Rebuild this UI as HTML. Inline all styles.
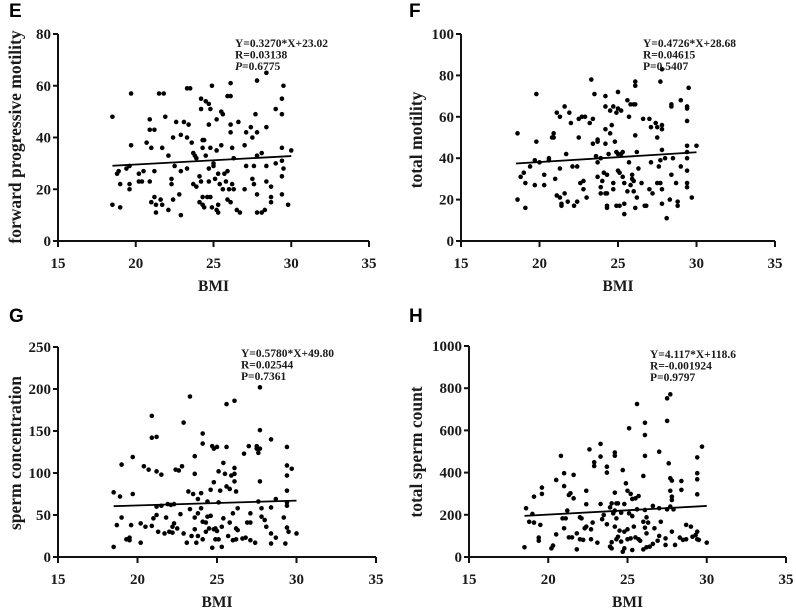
<!DOCTYPE html>
<html>
<head>
<meta charset="utf-8">
<style>
html,body{margin:0;padding:0;background:#fff;}
svg{display:block;}
text{font-family:"Liberation Serif",serif;font-weight:bold;fill:#1a1a1a;}
.pl{font-family:"Liberation Sans",sans-serif;font-size:19px;fill:#000;}
</style>
</head>
<body>
<svg id="fig" width="796" height="612" viewBox="0 0 796 612" xmlns="http://www.w3.org/2000/svg"></svg>
<script>
// ---- data (x = BMI, y = outcome) as [x,y] pairs ----
const xTicks = [15, 20, 25, 30, 35];
const eTicks = [0, 20, 40, 60, 80];
const fTicks = [0, 20, 40, 60, 80, 100];
const gTicks = [0, 50, 100, 150, 200, 250];
const hTicks = [0, 200, 400, 600, 800, 1000];
const eFit = [0.3270, 23.02];
const fFit = [0.4726, 28.68];
const gFit = [0.5780, 49.80];
const hFit = [4.117, 118.6];
const eData = [[18.5,48],[18.5,14],[18.8,26],[18.9,27],[19.0,13],[19.0,22],[19.4,28],[19.6,29],[19.6,22],[19.6,20],[19.7,57],[19.7,37],[20.2,26],[20.2,23],[20.4,23],[20.5,27],[20.7,38],[20.9,23],[20.9,47],[20.9,43],[21.0,36],[21.0,15],[21.2,43],[21.2,27],[21.2,17],[21.3,11],[21.3,14],[21.6,16],[21.5,57],[21.7,14],[21.7,36],[21.8,57],[21.9,48],[22.1,33],[22.1,12],[22.3,22],[22.3,24],[22.4,16],[22.4,40],[22.5,29],[22.6,46],[22.8,18],[22.9,41],[22.9,27],[22.9,10],[23.1,46],[23.3,40],[23.3,59],[23.4,45],[23.5,59],[23.3,28],[23.6,38],[23.7,34],[23.7,22],[23.8,33],[23.9,32],[23.9,21],[24.1,25],[24.1,15],[24.2,23],[24.2,51],[24.2,55],[24.3,39],[24.3,36],[24.3,17],[24.3,14],[24.4,13],[24.4,39],[24.5,54],[24.5,33],[24.6,17],[24.7,23],[24.7,53],[24.7,45],[24.7,28],[24.8,17],[24.8,36],[24.8,51],[24.9,13],[25.0,29],[24.9,60],[25.0,30],[25.1,24],[25.2,12],[25.2,35],[25.2,47],[25.3,26],[25.3,11],[25.3,14],[25.4,22],[25.5,37],[25.5,50],[25.6,20],[25.6,49],[25.7,26],[25.8,23],[25.9,27],[25.9,56],[25.9,16],[26.0,20],[26.1,15],[26.1,61],[26.1,56],[26.1,45],[26.1,42],[26.2,36],[26.2,22],[26.3,32],[26.3,20],[26.5,12],[26.6,46],[26.7,11],[27.0,37],[27.0,20],[27.1,29],[27.1,42],[27.4,44],[27.5,40],[27.5,24],[27.6,29],[27.6,22],[27.7,49],[27.8,62],[27.8,42],[27.8,18],[27.8,11],[27.8,33],[28.1,11],[28.1,34],[28.3,12],[28.4,44],[28.4,65],[28.4,29],[28.4,23],[28.7,21],[28.7,17],[28.7,15],[29.0,30],[29.0,51],[29.4,55],[29.4,49],[29.4,36],[29.4,25],[29.4,18],[29.4,31],[29.5,60],[29.5,28],[29.8,14],[30.0,35]];
const fData = [[18.6,52],[18.6,20],[18.8,31],[19.0,33],[19.1,28],[19.1,16],[19.4,36],[19.7,39],[19.7,27],[19.8,71],[19.8,48],[20.0,38],[20.3,32],[20.3,27],[20.6,39],[20.6,40],[20.8,50],[20.9,52],[20.9,50],[21.0,30],[21.1,62],[21.1,22],[21.3,21],[21.3,60],[21.3,35],[21.4,18],[21.4,17],[21.6,65],[21.6,23],[21.7,42],[21.8,19],[21.9,62],[22.0,57],[22.1,36],[22.2,17],[22.4,36],[22.4,19],[22.5,50],[22.5,59],[22.6,28],[22.7,60],[22.8,25],[22.8,29],[22.9,60],[23.0,21],[23.2,57],[23.3,78],[23.4,59],[23.4,47],[23.5,71],[23.7,48],[23.7,49],[23.6,41],[23.7,31],[23.7,38],[23.9,40],[23.9,26],[23.9,23],[24.0,29],[24.1,33],[24.2,70],[24.2,65],[24.2,54],[24.2,47],[24.2,23],[24.3,32],[24.3,17],[24.3,23],[24.3,16],[24.4,42],[24.5,52],[24.5,63],[24.6,56],[24.7,65],[24.7,28],[24.7,25],[24.8,48],[24.9,62],[24.9,43],[24.9,17],[25.0,72],[25.0,64],[25.0,42],[25.0,34],[25.1,33],[25.1,17],[25.2,63],[25.2,42],[25.3,31],[25.3,43],[25.4,28],[25.4,13],[25.4,18],[25.6,68],[25.6,24],[25.7,60],[25.7,38],[25.8,66],[25.8,27],[25.9,30],[25.9,32],[26.0,66],[26.0,29],[26.0,24],[26.1,66],[26.1,75],[26.1,77],[26.1,51],[26.1,16],[26.2,21],[26.2,43],[26.3,35],[26.5,28],[26.6,59],[26.7,17],[26.8,17],[27.0,59],[27.0,25],[27.1,55],[27.1,38],[27.2,23],[27.4,57],[27.5,28],[27.5,50],[27.5,55],[27.6,36],[27.7,77],[27.7,39],[27.7,28],[27.8,56],[27.8,54],[27.8,83],[27.8,44],[27.8,25],[27.8,18],[28.0,40],[28.1,11],[28.3,20],[28.4,32],[28.4,66],[28.4,65],[28.5,40],[28.7,28],[28.8,19],[28.8,17],[29.0,68],[29.0,36],[29.4,65],[29.4,64],[29.4,58],[29.4,46],[29.4,43],[29.4,40],[29.4,34],[29.4,28],[29.4,26],[29.5,74],[29.7,21],[30.0,46]];
const gData = [[18.5,77],[18.5,12],[18.7,38],[18.9,72],[19.0,110],[19.0,47],[19.3,21],[19.5,20],[19.5,23],[19.6,38],[19.7,119],[19.7,75],[20.2,17],[20.2,40],[20.4,108],[20.5,36],[20.7,104],[20.9,37],[20.9,168],[20.9,142],[21.0,46],[21.2,143],[21.2,50],[21.2,102],[21.2,60],[21.3,30],[21.5,98],[21.5,61],[21.7,28],[21.8,47],[21.9,63],[22.0,30],[22.1,62],[22.2,36],[22.2,29],[22.3,40],[22.3,63],[22.4,104],[22.5,34],[22.6,103],[22.7,51],[22.8,108],[22.9,28],[22.9,160],[23.1,17],[23.2,78],[23.3,191],[23.3,57],[23.4,25],[23.5,75],[23.6,47],[23.6,120],[23.6,99],[23.6,33],[23.7,17],[23.8,25],[23.8,69],[23.8,52],[24.0,76],[24.0,58],[24.1,147],[24.1,135],[24.1,42],[24.1,21],[24.3,30],[24.3,41],[24.4,66],[24.4,48],[24.5,34],[24.6,49],[24.6,80],[24.7,11],[24.7,132],[24.8,33],[24.8,129],[24.8,89],[24.9,21],[24.9,34],[25.0,31],[25.0,131],[25.1,102],[25.1,65],[25.1,21],[25.2,79],[25.3,36],[25.3,12],[25.4,112],[25.4,46],[25.5,99],[25.6,131],[25.6,84],[25.6,182],[25.7,25],[25.8,81],[25.8,41],[25.9,97],[26.0,20],[26.0,52],[26.1,186],[26.1,99],[26.1,90],[26.1,106],[26.2,21],[26.2,34],[26.2,78],[26.3,58],[26.3,32],[26.6,22],[26.7,123],[26.8,23],[26.9,41],[27.0,132],[27.1,52],[27.1,41],[27.1,20],[27.4,17],[27.5,132],[27.5,129],[27.6,66],[27.7,202],[27.6,124],[27.7,90],[27.7,129],[27.7,151],[27.8,58],[27.8,48],[28.0,44],[28.1,36],[28.4,28],[28.4,16],[28.4,140],[28.4,59],[28.7,69],[28.7,23],[29.2,47],[29.3,16],[29.4,131],[29.4,109],[29.4,97],[29.4,79],[29.4,65],[29.4,61],[29.4,35],[29.5,30],[29.7,105],[30.0,28]];
const hData = [[18.5,46],[18.6,231],[18.8,167],[19.0,204],[19.1,286],[19.1,163],[19.4,77],[19.4,92],[19.5,152],[19.6,329],[19.6,299],[20.2,41],[20.3,54],[20.5,107],[20.5,365],[20.8,479],[20.9,183],[21.0,136],[21.0,397],[21.0,336],[21.1,183],[21.2,220],[21.3,294],[21.3,93],[21.4,302],[21.5,93],[21.6,389],[21.6,278],[21.8,36],[21.8,112],[22.0,84],[22.0,188],[22.1,183],[22.2,81],[22.3,136],[22.4,314],[22.4,144],[22.4,250],[22.6,510],[22.7,131],[22.7,84],[22.8,163],[22.9,431],[22.9,449],[23.1,68],[23.3,536],[23.3,251],[23.3,476],[23.4,179],[23.5,199],[23.7,400],[23.7,428],[23.7,155],[23.9,235],[23.9,49],[24.0,70],[24.0,41],[24.0,254],[24.1,207],[24.2,495],[24.2,480],[24.2,305],[24.2,220],[24.2,144],[24.3,84],[24.3,254],[24.3,183],[24.4,96],[24.4,254],[24.5,125],[24.6,210],[24.6,73],[24.7,25],[24.7,412],[24.8,251],[24.8,120],[24.8,41],[24.9,349],[25.0,131],[25.0,84],[25.0,314],[25.1,207],[25.1,610],[25.2,299],[25.2,88],[25.3,33],[25.3,275],[25.3,194],[25.4,144],[25.5,93],[25.5,278],[25.6,226],[25.6,725],[25.7,289],[25.7,84],[25.8,77],[26.0,384],[26.0,167],[26.0,36],[26.1,223],[26.1,636],[26.1,578],[26.1,479],[26.1,139],[26.2,46],[26.2,112],[26.2,188],[26.3,163],[26.4,49],[26.6,62],[26.6,242],[26.7,136],[26.9,77],[27.0,499],[27.0,231],[27.0,100],[27.1,167],[27.4,88],[27.4,57],[27.5,752],[27.5,645],[27.5,226],[27.6,444],[27.7,239],[27.7,314],[27.7,771],[27.7,373],[27.8,362],[27.8,286],[27.8,270],[27.8,120],[27.9,226],[28.0,57],[28.3,92],[28.4,318],[28.4,360],[28.5,81],[28.7,84],[28.7,152],[29.0,144],[29.1,96],[29.3,104],[29.4,120],[29.4,472],[29.4,368],[29.4,397],[29.4,297],[29.4,84],[29.5,81],[29.7,523],[30.0,68]];

const NS = "http://www.w3.org/2000/svg";
const svg = document.getElementById('fig');
function mk(tag, attrs, parent){
  const el = document.createElementNS(NS, tag);
  for (const k in attrs) el.setAttribute(k, attrs[k]);
  (parent || svg).appendChild(el);
  return el;
}

function panel(cfg, data, yTicks, fit){
  const g = mk('g', {});
  
  
  const xMin = xTicks[0], xMax = xTicks[xTicks.length-1];
  const yMax = yTicks[yTicks.length-1];
  const sx = v => cfg.x0 + (v - xMin) / (xMax - xMin) * (cfg.x1 - cfg.x0);
  const sy = v => cfg.yb - v / yMax * (cfg.yb - cfg.yt);

  const letter = mk('text', {x: cfg.lx, y: cfg.ly, class: 'pl'}, g);
  letter.textContent = cfg.letter;
  
  

  const yAxis = mk('line', {x1: cfg.x0, y1: cfg.yt, x2: cfg.x0, y2: cfg.yb + 1, stroke: '#111', 'stroke-width': 2}, g);
  
  
  const xAxis = mk('line', {x1: cfg.x0 - 1, y1: cfg.yb, x2: cfg.x1, y2: cfg.yb, stroke: '#111', 'stroke-width': 2}, g);
  
  

  yTicks.forEach(t => {
    const y = sy(t);
    const tk = mk('line', {x1: cfg.x0 - 5, y1: y, x2: cfg.x0, y2: y, stroke: '#111', 'stroke-width': 2}, g);
    
    
    const tl = mk('text', {x: cfg.x0 - 7, y: y + 5, 'text-anchor': 'end', 'font-size': 15}, g);
    tl.textContent = t;
    
    
  });
  xTicks.forEach(t => {
    const x = sx(t);
    const tk = mk('line', {x1: x, y1: cfg.yb, x2: x, y2: cfg.yb + 6, stroke: '#111', 'stroke-width': 2}, g);
    
    
    const tl = mk('text', {x: x, y: cfg.yb + 27, 'text-anchor': 'middle', 'font-size': 15}, g);
    tl.textContent = t;
    
    
  });

  const xt = mk('text', {x: (cfg.x0 + cfg.x1) / 2, y: cfg.yb + 50, 'text-anchor': 'middle', 'font-size': 15.5}, g);
  xt.textContent = 'BMI';
  
  
  const yt = mk('text', {x: 0, y: 0, 'text-anchor': 'middle', 'font-size': 17.5,
    transform: 'translate(' + cfg.tx + ',' + cfg.ty + ') rotate(-90)'}, g);
  yt.textContent = cfg.ytitle;
  
  

  data.forEach(d => {
    const c = mk('circle', {cx: sx(d[0]), cy: sy(d[1]), r: 2.3, fill: '#000'}, g);
    
    
  });

  const fx0 = 18.5, fx1 = 30;
  const fl = mk('line', {x1: sx(fx0), y1: sy(fit[0]*fx0 + fit[1]), x2: sx(fx1), y2: sy(fit[0]*fx1 + fit[1]), stroke: '#000', 'stroke-width': 1.8}, g);
  
  

  cfg.ann.forEach((s, i) => {
    const t = mk('text', {x: cfg.ax, y: cfg.ay + i * 11.5, 'font-size': 11.5}, g);
    
    
    if (cfg.italicP && s.startsWith('P')) {
      const p = mk('tspan', {'font-style': 'italic'}, t);
      p.textContent = 'P';
      const r = mk('tspan', {}, t);
      r.textContent = s.slice(1);
    } else t.textContent = s;
  });
}

panel({id:'e', letter:'E', lx:9, ly:17, x0:58, x1:369, yt:34, yb:241, tx:21, ty:137,
  ytitle:'forward progressive motility', ax:235, ay:47, italicP:true,
  ann:['Y=0.3270*X+23.02','R=0.03138','P=0.6775']}, eData, eTicks, eFit);
panel({id:'f', letter:'F', lx:409, ly:17, x0:461, x1:775, yt:34, yb:241, tx:422, ty:140,
  ytitle:'total motility', ax:643, ay:47,
  ann:['Y=0.4726*X+28.68','R=0.04615','P=0.5407']}, fData, fTicks, fFit);
panel({id:'g', letter:'G', lx:9, ly:322, x0:58, x1:376, yt:347, yb:557, tx:21, ty:453,
  ytitle:'sperm concentration', ax:241, ay:357,
  ann:['Y=0.5780*X+49.80','R=0.02544','P=0.7361']}, gData, gTicks, gFit);
panel({id:'h', letter:'H', lx:409, ly:322, x0:469, x1:786, yt:346, yb:557, tx:422, ty:452,
  ytitle:'total sperm count', ax:650, ay:358,
  ann:['Y=4.117*X+118.6','R=-0.001924','P=0.9797']}, hData, hTicks, hFit);
</script>
</body>
</html>
